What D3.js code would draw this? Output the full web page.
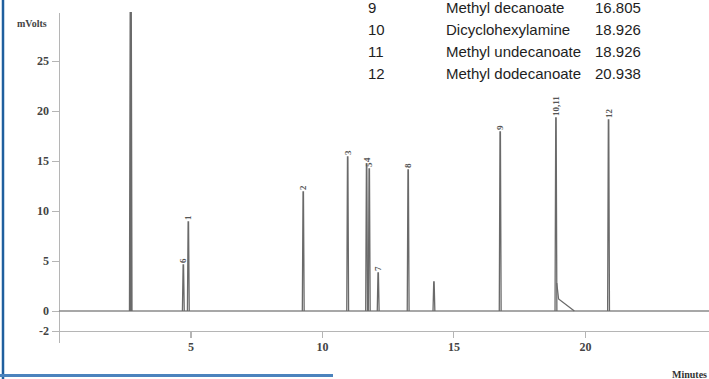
<!DOCTYPE html>
<meta charset="utf-8">
<style>
body { margin: 0; background: #fff; }

.axis path, .axis line {
  stroke: #b5b5b5;
  stroke-width: 1.2px;
  shape-rendering: crispEdges;
}

.axis text {
  font-family: "Liberation Serif", serif;
  font-weight: bold;
  font-size: 12px;
  fill: #444;
}

.peak {
  fill: none;
  stroke: #6a6a6a;
  stroke-width: 1.3px;
}

.plabel {
  font-family: "Liberation Serif", serif;
  font-weight: bold;
  font-size: 9px;
  fill: #555;
}

.legend text {
  font-family: "Liberation Sans", Arial, sans-serif;
  font-size: 15px;
  fill: #1e1e1e;
}
</style>
<body>
<script src="https://d3js.org/d3.v7.min.js"></script>
<script>

// peaks (retention time in minutes, height in mVolts)
var peakTimes   = [2.73, 4.73, 4.92, 9.29, 10.98, 11.70, 11.80, 12.14, 13.28, 14.26, 16.78, 18.90, 20.90];
var peakHeights = [29.8, 4.6, 8.9, 11.9, 15.4, 14.7, 14.2, 3.8, 14.1, 2.9, 17.9, 19.3, 19.1];
var peakLabels  = ["", "6", "1", "2", "3", "4", "5", "7", "8", "", "9", "10,11", "12"];

// shoulder and tail after the 10,11 peak
var tailTimes   = [18.93, 19.00, 19.60];
var tailHeights = [2.8, 1.2, 0];

// compound table (top right)
var compoundNo    = ["9", "10", "11", "12"];
var compoundNames = ["Methyl decanoate", "Dicyclohexylamine", "Methyl undecanoate", "Methyl dodecanoate"];
var compoundTimes = ["16.805", "18.926", "18.926", "20.938"];

var xTicks = [5, 10, 15, 20];
var yTicks = [-2, 0, 5, 10, 15, 20, 25];

var width = 709, height = 379;

var svg = d3.select("body").append("svg")
    .attr("width", width)
    .attr("height", height);

// scales
var x = d3.scaleLinear().domain([-0.15, 24.72]).range([55, 709]);
var y = d3.scaleLinear().domain([-3.1, 29.9]).range([342, 12]);

// blue frame of the page
svg.append("line")
    .attr("x1", 3).attr("x2", 3)
    .attr("y1", 0).attr("y2", height)
    .attr("stroke", "#1f5f9e")
    .attr("stroke-width", 2.5);
svg.append("line")
    .attr("x1", 0).attr("x2", 333)
    .attr("y1", 375.5).attr("y2", 375.5)
    .attr("stroke", "#4b83bd")
    .attr("stroke-width", 3);

// x axis sits on the -2 line
svg.append("g")
    .attr("class", "axis")
    .attr("transform", "translate(0," + y(-2) + ")")
    .call(d3.axisBottom(x).tickValues(xTicks).tickSize(7).tickSizeOuter(0).tickPadding(4));

// y axis (plain hyphen for the minus sign, like the scan)
svg.append("g")
    .attr("class", "axis")
    .attr("transform", "translate(" + x(0) + ",0)")
    .call(d3.axisLeft(y).tickValues(yTicks).tickSize(7).tickSizeOuter(0).tickPadding(3)
      .tickFormat(function(d) { return String(d); }));

svg.append("text")
    .attr("x", 17).attr("y", 27)
    .style("font-family", "Liberation Serif, serif")
    .style("font-weight", "bold")
    .style("font-size", "10px")
    .style("fill", "#444")
    .text("mVolts");

svg.append("text")
    .attr("x", 672).attr("y", 378)
    .style("font-family", "Liberation Serif, serif")
    .style("font-weight", "bold")
    .style("font-size", "10px")
    .style("fill", "#333")
    .text("Minutes");

// baseline
var line = d3.line()
    .x(function(d) { return x(d[0]); })
    .y(function(d) { return y(d[1]); });

svg.append("path")
    .attr("class", "peak")
    .style("stroke", "#8a8a8a")
    .attr("d", line([[0, 0], [x.domain()[1], 0]]));

// each peak as a narrow spike
var halfW = 0.035;
var peaks = peakTimes.map(function(t, i) {
  return { t: t, h: peakHeights[i], label: peakLabels[i] };
});

svg.selectAll(".spike")
    .data(peaks)
  .enter().append("path")
    .attr("class", "peak")
    .style("stroke-width", function(d, i) { return i === 0 ? 2 : 1.3; })
    .attr("d", function(d) {
      return line([[d.t - halfW, 0], [d.t - 0.008, d.h], [d.t + 0.008, d.h], [d.t + halfW, 0]]);
    });

var tail = tailTimes.map(function(t, i) { return [t, tailHeights[i]]; });
svg.append("path")
    .attr("class", "peak")
    .attr("d", line(tail));

// rotated peak labels
svg.selectAll(".plabel")
    .data(peaks.filter(function(d) { return d.label !== ""; }))
  .enter().append("text")
    .attr("class", "plabel")
    .attr("transform", function(d) {
      return "translate(" + (x(d.t) + 3) + "," + (y(d.h) - 2) + ") rotate(-90)";
    })
    .text(function(d) { return d.label; });

// compound table
var legend = svg.append("g").attr("class", "legend");
compoundNo.forEach(function(n, i) {
  var yy = 12.7 + i * 22.2;
  legend.append("text").attr("x", 368).attr("y", yy).text(n);
  legend.append("text").attr("x", 446).attr("y", yy).text(compoundNames[i]);
  legend.append("text").attr("x", 595).attr("y", yy).text(compoundTimes[i]);
});

</script>
</body>
